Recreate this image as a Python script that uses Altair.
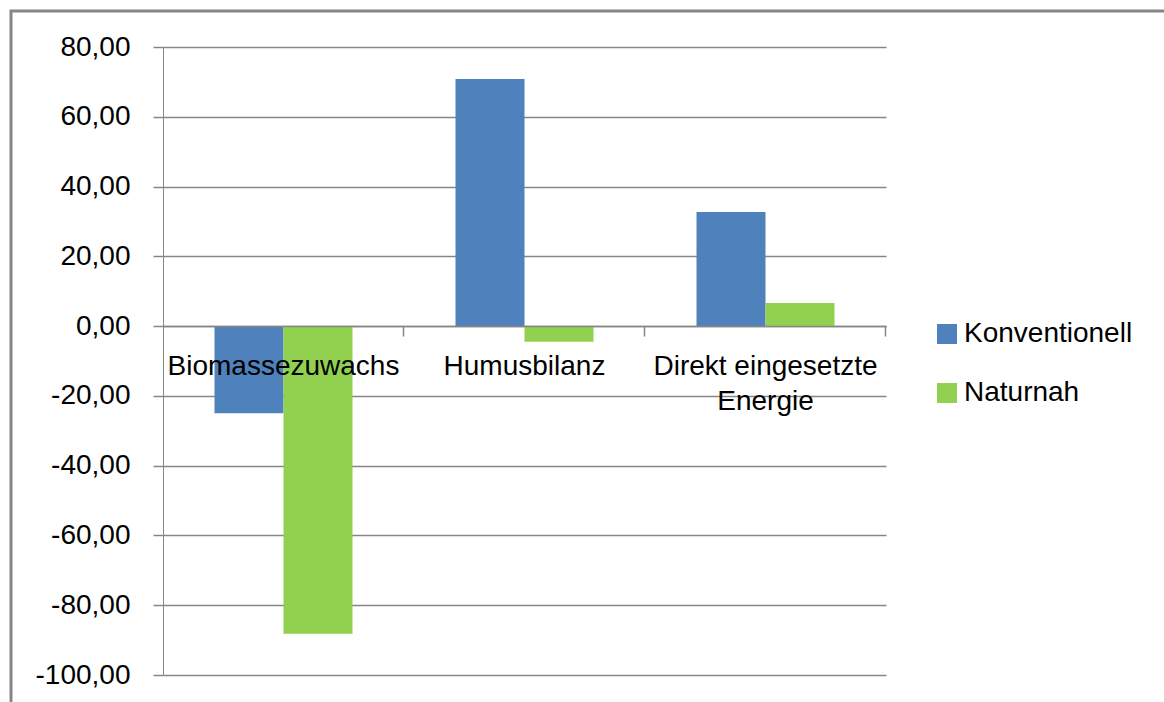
import altair as alt
import pandas as pd

categories = ["Biomassezuwachs", "Humusbilanz", "Direkt eingesetzte Energie"]
series = ["Konventionell", "Naturnah"]
konventionell = [-25.0, 70.8, 32.7]
naturnah = [-88.2, -4.5, 6.6]
y_ticks = [-100, -80, -60, -40, -20, 0, 20, 40, 60, 80]
colors = ["#4F81BD", "#92D050"]

rows = []
for c, k, n in zip(categories, konventionell, naturnah):
    rows.append({"Kategorie": c, "Serie": series[0], "Wert": k})
    rows.append({"Kategorie": c, "Serie": series[1], "Wert": n})
df = pd.DataFrame(rows)

GRAY = "#868686"
FONT = "Liberation Sans"

bars = alt.Chart(df).mark_bar().encode(
    x=alt.X(
        "Kategorie:N",
        sort=categories,
        scale=alt.Scale(paddingInner=0.4274, paddingOuter=0.2137),
        axis=alt.Axis(
            title=None,
            orient="bottom",
            offset=-349,
            zindex=1,
            labelAngle=0,
            labelFont=FONT,
            labelFontSize=28,
            labelColor="black",
            labelPadding=16,
            labelLimit=400,
            labelLineHeight=35,
            labelExpr="datum.label == 'Direkt eingesetzte Energie' ? ['Direkt eingesetzte', 'Energie'] : datum.label",
            bandPosition=1.3732,
            tickSize=10,
            tickColor=GRAY,
            tickWidth=1.5,
            domainColor=GRAY,
            domainWidth=1.5,
            grid=False,
        ),
    ),
    xOffset=alt.XOffset("Serie:N", sort=series, scale=alt.Scale(paddingInner=0, paddingOuter=0)),
    y=alt.Y(
        "Wert:Q",
        scale=alt.Scale(domain=[-100, 80], nice=False, zero=False),
        axis=alt.Axis(
            title=None,
            values=y_ticks,
            labelExpr="(datum.value < 0 ? '-' : '') + replace(format(abs(datum.value), '.2f'), '.', ',')",
            labelFont=FONT,
            labelFontSize=28,
            labelColor="black",
            labelPadding=23,
            tickSize=10,
            tickColor=GRAY,
            tickWidth=1.5,
            domainColor=GRAY,
            domainWidth=1,
            grid=True,
            gridColor=GRAY,
            gridWidth=1.5,
        ),
    ),
    color=alt.Color(
        "Serie:N",
        sort=series,
        scale=alt.Scale(domain=series, range=colors),
        legend=alt.Legend(
            title=None,
            orient="none",
            legendX=770,
            legendY=273,
            symbolType="square",
            symbolSize=400,
            symbolStrokeWidth=0,
            labelFont=FONT,
            labelFontSize=28,
            labelColor="black",
            labelOffset=3,
            labelLimit=300,
            rowPadding=31,
            padding=0,
        ),
    ),
)

frame = alt.Chart(pd.DataFrame({"f": [0]})).mark_rect(
    filled=False, stroke=GRAY, strokeWidth=3
).encode(
    x=alt.value(-152),
    x2=alt.value(1040),
    y=alt.value(-36),
    y2=alt.value(700),
)

chart = alt.layer(frame, bars).properties(
    width=723,
    height=628,
    autosize=alt.AutoSizeParams(type="none"),
    padding={"left": 163, "top": 47, "right": 278, "bottom": 27},
    background="white",
).configure_view(stroke=None)

chart.save("out.html", embed_options={"renderer": "svg", "actions": False})
